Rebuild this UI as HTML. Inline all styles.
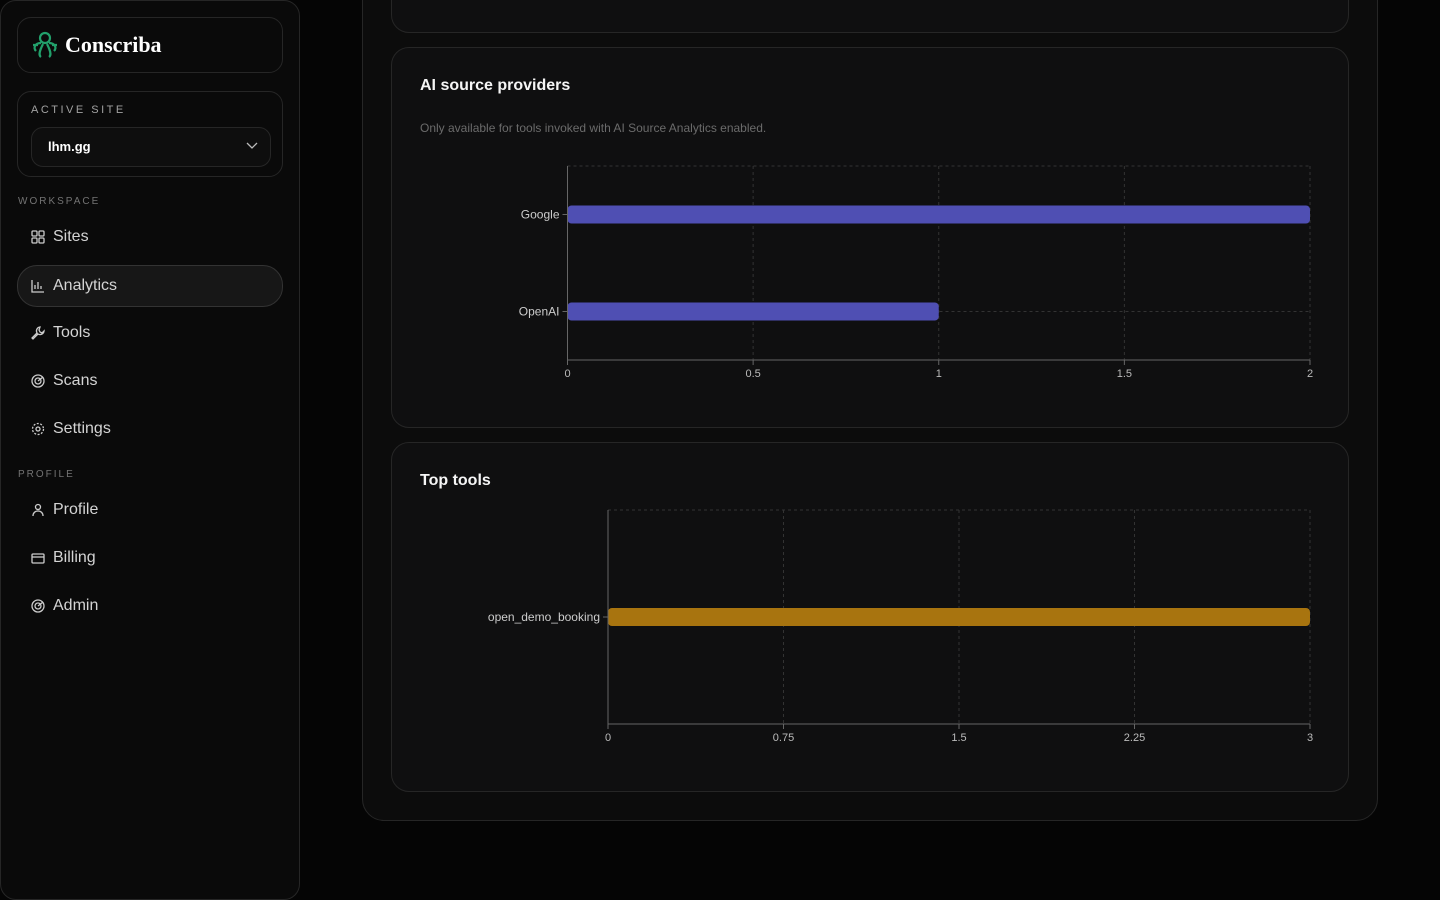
<!DOCTYPE html>
<html><head><meta charset="utf-8"><style>
body{margin:0;width:1440px;height:900px;background:#050505;font-family:"Liberation Sans",sans-serif;color:#e5e5e5;overflow:hidden;position:relative}
.sidebar{position:absolute;left:0;top:0;width:298px;height:898px;border:1px solid #262626;border-radius:16px;background:#0a0a0a}
.box{position:absolute;border:1px solid #262626;border-radius:14px;background:#0a0a0a}
.nav{position:absolute;left:17px;width:264px;height:40px;border-radius:20px;display:flex;align-items:center;font-size:16px;color:#d4d4d4}
.nav svg{margin-left:13px;margin-right:8px}
.sec{position:absolute;left:17px;font-size:10px;letter-spacing:2px;color:#737373}
.main{position:absolute;left:362px;top:-30px;width:1014px;height:849px;border:1px solid #262626;border-radius:22px;background:#0c0c0c}
.card{position:absolute;left:391px;width:956px;border:1px solid #262626;border-radius:18px;background:#0f0f10}
.title{position:absolute;left:28px;font-size:16px;font-weight:bold;color:#f5f5f5}
</style></head><body>
<div class="sidebar">
 <div class="box" style="left:16px;top:16px;width:264px;height:54px">
  <svg style="position:absolute;left:12px;top:12px" width="30" height="30" viewBox="0 0 30 30"><g fill="none" stroke="#22a06b" stroke-width="2.2"><circle cx="15" cy="8" r="5"/><path d="M11 13 C5 13 3 18 6 21 M19 13 C25 13 27 18 24 21 M13 14 C10 20 8 25 11 27 M17 14 C20 20 22 25 19 27 M3 15 L8 15 M27 15 L22 15"/></g></svg>
  <span style="position:absolute;left:47px;top:14px;font-family:'Liberation Serif',serif;font-weight:bold;font-size:22px;color:#fff">Conscriba</span>
 </div>
 <div class="box" style="left:16px;top:90px;width:264px;height:84px">
  <div style="position:absolute;left:13px;top:12px;font-size:11px;letter-spacing:2.5px;color:#a3a3a3">ACTIVE SITE</div>
  <div style="position:absolute;left:13px;top:35px;width:238px;height:38px;border:1px solid #262626;border-radius:12px;background:#0e0e0e">
   <span style="position:absolute;left:16px;top:11px;font-size:13px;font-weight:bold;color:#fff">lhm.gg</span>
   <svg style="position:absolute;right:12px;top:14px" width="12" height="8" viewBox="0 0 12 8"><path d="M1 1l5 5 5-5" stroke="#bbb" fill="none" stroke-width="1.3"/></svg>
  </div>
 </div>
 <div class="sec" style="top:195px">WORKSPACE</div>
 <div class="nav" style="top:216px"><svg width="14" height="14" viewBox="0 0 14 14" fill="none" stroke="#ccc" stroke-width="1.3"><rect x="1" y="1" width="5" height="5" rx="1"/><rect x="8" y="1" width="5" height="5" rx="1"/><rect x="1" y="8" width="5" height="5" rx="1"/><rect x="8" y="8" width="5" height="5" rx="1"/></svg>Sites</div>
 <div class="nav" style="top:264px;background:#171717;border:1px solid #333;height:40px;width:264px;left:16px"><svg width="14" height="14" viewBox="0 0 14 14" fill="none" stroke="#ccc" stroke-width="1.3"><path d="M1 1v12h12M4 10V6M7 10V3M10 10V7"/></svg>Analytics</div>
 <div class="nav" style="top:312px"><svg width="14" height="14" viewBox="0 0 14 14" fill="none" stroke="#ccc" stroke-width="1.3"><path d="M9 1a4 4 0 0 0-3 6L1 12l1 1 5-5a4 4 0 0 0 6-3l-2 2-2-1-1-2z"/></svg>Tools</div>
 <div class="nav" style="top:360px"><svg width="14" height="14" viewBox="0 0 14 14" fill="none" stroke="#ccc" stroke-width="1.3"><circle cx="7" cy="7" r="6"/><circle cx="7" cy="7" r="3"/><path d="M7 7l5-4"/></svg>Scans</div>
 <div class="nav" style="top:408px"><svg width="14" height="14" viewBox="0 0 14 14" fill="none" stroke="#ccc" stroke-width="1.3"><circle cx="7" cy="7" r="2"/><circle cx="7" cy="7" r="5.5" stroke-dasharray="2 1.5"/></svg>Settings</div>
 <div class="sec" style="top:468px">PROFILE</div>
 <div class="nav" style="top:489px"><svg width="14" height="14" viewBox="0 0 14 14" fill="none" stroke="#ccc" stroke-width="1.3"><circle cx="7" cy="4" r="2.5"/><path d="M2 13c0-3 2-5 5-5s5 2 5 5"/></svg>Profile</div>
 <div class="nav" style="top:537px"><svg width="14" height="14" viewBox="0 0 14 14" fill="none" stroke="#ccc" stroke-width="1.3"><rect x="1" y="3" width="12" height="9" rx="1"/><path d="M1 6h12"/></svg>Billing</div>
 <div class="nav" style="top:585px"><svg width="14" height="14" viewBox="0 0 14 14" fill="none" stroke="#ccc" stroke-width="1.3"><circle cx="7" cy="7" r="6"/><circle cx="7" cy="7" r="3"/><path d="M7 7l5-4"/></svg>Admin</div>
</div>
<div class="main"></div>
<div class="card" style="top:-20px;height:51px"></div>
<div class="card" style="top:47px;height:379px">
 <div class="title" style="top:29px">AI source providers</div>
 <div style="position:absolute;left:28px;top:73px;font-size:12px;color:#6b6b6b">Only available for tools invoked with AI Source Analytics enabled.</div>
</div>
<div class="card" style="top:442px;height:348px">
 <div class="title" style="top:29px">Top tools</div>
</div>
<svg id="ch" width="1440" height="900" style="position:absolute;left:0;top:0"></svg>
<script>
const provCats=["Google","OpenAI"];
const provVals=[2,1];
const provTicks=[0,0.5,1,1.5,2];
const toolCats=["open_demo_booking"];
const toolVals=[3];
const toolTicks=[0,0.75,1.5,2.25,3];
const svg=document.getElementById('ch');const NS='http://www.w3.org/2000/svg';
function mk(t,a,p){const e=document.createElementNS(NS,t);for(const k in a)e.setAttribute(k,a[k]);(p||svg).appendChild(e);return e;}
function chart(name,cats,vals,ticks,x0,x1,y0,y1,color){
 const max=ticks[ticks.length-1];const sx=v=>x0+(v/max)*(x1-x0);
 const band=(y1-y0)/cats.length;const sy=i=>y0+band*(i+0.5);
 const g=mk('g',{});
 mk('line',{x1:x0,x2:x1,y1:y0,y2:y0,stroke:'#333','stroke-dasharray':'3 3'},g);
 ticks.forEach(t=>{if(t>0){const l=mk('line',{x1:sx(t),x2:sx(t),y1:y0,y2:y1,stroke:'#333','stroke-dasharray':'3 3'},g);}
  mk('line',{x1:sx(t),x2:sx(t),y1:y1,y2:y1+5,stroke:'#666'},g);
  const tx=mk('text',{x:sx(t),y:y1+17,'text-anchor':'middle','font-size':11,fill:'#bbb','font-family':'Liberation Sans'},g);tx.textContent=t;});
 cats.forEach((c,i)=>{const y=sy(i);mk('line',{x1:x0,x2:x1,y1:y,y2:y,stroke:'#333','stroke-dasharray':'3 3'},g);
  mk('line',{x1:x0-5,x2:x0,y1:y,y2:y,stroke:'#666'},g);
  const tx=mk('text',{x:x0-8,y:y+4,'text-anchor':'end','font-size':12,fill:'#ccc','font-family':'Liberation Sans'},g);tx.textContent=c;
  const b=mk('rect',{x:x0,y:y-9,width:sx(vals[i])-x0,height:18,rx:4,fill:color},g);});
 mk('line',{x1:x0,x2:x0,y1:y0,y2:y1,stroke:'#666'},g);mk('line',{x1:x0,x2:x1,y1:y1,y2:y1,stroke:'#666'},g);
}
chart('ai-providers-chart',provCats,provVals,provTicks,567.5,1310,166,360,'#4f4fb3');
chart('top-tools-chart',toolCats,toolVals,toolTicks,608,1310,510,724,'#a8740f');
</script>
</body></html>
